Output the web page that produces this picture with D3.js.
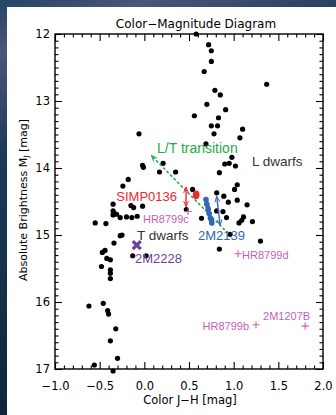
<!DOCTYPE html>
<html>
<head>
<meta charset="utf-8">
<script src="https://cdn.jsdelivr.net/npm/d3@7"></script>
<style>
  html, body { margin: 0; padding: 0; background: #16304a; }
  svg { display: block; }
</style>
</head>
<body>
<div id="cmd"></div>
<script>
// field brown dwarfs: [J-H, M_J]
var fieldDwarfs = [
  [0.58, 12.0], [0.72, 12.16], [0.75, 12.25], [0.75, 12.41], [0.67, 12.56], [1.37, 12.75],
  [0.79, 12.84], [0.85, 12.91], [0.70, 13.05], [0.91, 13.13], [0.56, 13.22], [0.83, 13.25],
  [0.75, 13.37], [0.82, 13.37], [1.10, 13.42], [-0.06, 13.49], [0.78, 13.49], [1.07, 13.55],
  [0.69, 13.64], [0.98, 13.84], [0.95, 13.93], [0.90, 13.94], [0.21, 13.93], [-0.02, 13.96],
  [-0.01, 13.99], [1.02, 13.97], [0.35, 14.06], [0.17, 14.06], [0.84, 14.07], [-0.18, 14.17],
  [-0.24, 14.27], [1.04, 14.25], [1.01, 14.32], [0.54, 14.32], [0.81, 14.37], [0.89, 14.42],
  [0.94, 14.51], [1.04, 14.48], [1.15, 14.55], [0.47, 14.62], [0.81, 14.64], [0.88, 14.65],
  [0.92, 14.74], [0.64, 14.75], [0.75, 14.77], [1.11, 14.73], [1.09, 14.78], [1.06, 14.82],
  [1.21, 14.80], [1.30, 15.09], [0.96, 14.99], [0.84, 15.21],
  [-0.15, 14.56], [-0.12, 14.59], [-0.02, 14.57], [-0.35, 14.54], [-0.35, 14.64], [-0.34, 14.67],
  [-0.31, 14.69], [-0.35, 14.70], [-0.27, 14.74], [-0.20, 14.73], [-0.14, 14.74], [-0.08, 14.72],
  [-0.55, 14.82], [-0.43, 14.83], [-0.27, 15.01], [-0.25, 15.0], [-0.34, 15.12], [-0.44, 15.23],
  [-0.47, 15.26], [-0.42, 15.35], [-0.38, 15.37], [-0.48, 15.47], [-0.38, 15.52], [-0.38, 15.57],
  [-0.38, 15.65], [-0.13, 15.31], [0.02, 15.31], [-0.62, 16.06], [-0.46, 16.02], [-0.41, 16.13],
  [-0.40, 16.18], [-0.32, 16.40], [-0.38, 16.58], [-0.30, 16.84], [-0.56, 16.94], [-0.35, 17.03]
];

// directly imaged planets (plus markers)
var planets = [
  { name: "HR8799c", jh: 0.49, mj: 14.65 },
  { name: "HR8799d", jh: 1.05, mj: 15.28 },
  { name: "HR8799b", jh: 1.25, mj: 16.34 },
  { name: "2M1207B", jh: 1.80, mj: 16.36 }
];

var simp0136 = { jh: 0.58, mj: 14.40, range: [14.29, 14.57], jhArrow: 0.467 };
var track2M2139 = [[0.69, 14.47], [0.70, 14.54], [0.715, 14.61], [0.725, 14.68], [0.74, 14.75], [0.755, 14.82]];
var arrow2M2139 = [[0.81, 14.43], [0.848, 14.85]];
var star2M2228 = { jh: -0.085, mj: 15.15 };
var transitionArrow = [[0.94, 14.98], [0.083, 13.82]];

var xMajor = [-1.0, -0.5, 0.0, 0.5, 1.0, 1.5, 2.0];
var yMajor = [12, 13, 14, 15, 16, 17];

var W = 336, H = 415;
var svg = d3.select("#cmd").append("svg").attr("width", W).attr("height", H);

var defs = svg.append("defs");
var bg = defs.append("linearGradient").attr("id", "bg")
  .attr("x1", 0).attr("y1", 0).attr("x2", 0.3).attr("y2", 1);
bg.append("stop").attr("offset", 0).attr("stop-color", "#234566");
bg.append("stop").attr("offset", 0.12).attr("stop-color", "#4b5578");
bg.append("stop").attr("offset", 0.35).attr("stop-color", "#1c3a58");
bg.append("stop").attr("offset", 1).attr("stop-color", "#0b2434");
svg.append("rect").attr("width", W).attr("height", H).attr("fill", "url(#bg)");
svg.append("rect").attr("x", 7).attr("y", 7).attr("width", W - 7).attr("height", H - 7).attr("fill", "#fff");

var x = d3.scaleLinear().domain([-1, 2]).range([55, 323]);
var y = d3.scaleLinear().domain([12, 17]).range([34, 369]);

var xMinor = d3.range(-10, 21).map(function (d) { return d / 10; }).filter(function (d) { return Math.round(d * 10) % 5 !== 0; });
var yMinor = d3.range(120, 171).map(function (d) { return d / 10; }).filter(function (d) { return Math.round(d * 10) % 10 !== 0; });

var axisFont = "'DejaVu Sans', sans-serif";

function styleAxis(g) {
  g.selectAll(".domain").remove();
  g.selectAll(".tick line").attr("stroke", "#000").attr("stroke-width", 1.1);
  g.selectAll(".tick text").attr("fill", "#000").style("font-family", axisFont).style("font-size", "11.5px");
}

svg.append("g").attr("transform", "translate(0," + y(17) + ")")
  .call(d3.axisBottom(x).tickValues(xMajor).tickSize(-7).tickPadding(13).tickFormat(d3.format(".1f")))
  .call(styleAxis);
svg.append("g").attr("transform", "translate(0," + y(17) + ")")
  .call(d3.axisBottom(x).tickValues(xMinor).tickSize(-3.5).tickFormat(""))
  .call(styleAxis);
svg.append("g").attr("transform", "translate(0," + y(12) + ")")
  .call(d3.axisTop(x).tickValues(xMajor).tickSize(-7).tickFormat(""))
  .call(styleAxis);
svg.append("g").attr("transform", "translate(0," + y(12) + ")")
  .call(d3.axisTop(x).tickValues(xMinor).tickSize(-3.5).tickFormat(""))
  .call(styleAxis);
svg.append("g").attr("transform", "translate(" + x(-1) + ",0)")
  .call(d3.axisLeft(y).tickValues(yMajor).tickSize(-7).tickPadding(5).tickFormat(d3.format("d")))
  .call(styleAxis);
svg.append("g").attr("transform", "translate(" + x(-1) + ",0)")
  .call(d3.axisLeft(y).tickValues(yMinor).tickSize(-3.5).tickFormat(""))
  .call(styleAxis);
svg.append("g").attr("transform", "translate(" + x(2) + ",0)")
  .call(d3.axisRight(y).tickValues(yMajor).tickSize(-7).tickFormat(""))
  .call(styleAxis);
svg.append("g").attr("transform", "translate(" + x(2) + ",0)")
  .call(d3.axisRight(y).tickValues(yMinor).tickSize(-3.5).tickFormat(""))
  .call(styleAxis);

// frame
svg.append("rect")
  .attr("x", x(-1)).attr("y", y(12))
  .attr("width", x(2) - x(-1)).attr("height", y(17) - y(12))
  .attr("fill", "none").attr("stroke", "#000").attr("stroke-width", 1.4);

// titles
svg.append("text").attr("x", 196).attr("y", 28).attr("text-anchor", "middle")
  .style("font-family", axisFont).style("font-size", "12px").text("Color\u2212Magnitude Diagram");
svg.append("text").attr("x", 190).attr("y", 404).attr("text-anchor", "middle")
  .style("font-family", axisFont).style("font-size", "11.5px").text("Color J\u2212H [mag]");
var yl = svg.append("text").attr("transform", "translate(27," + 200 + ")rotate(-90)")
  .attr("text-anchor", "middle").style("font-family", axisFont).style("font-size", "11px");
yl.append("tspan").text("Absolute Brightness M");
yl.append("tspan").attr("baseline-shift", "-25%").style("font-size", "7.5px").text("J");
yl.append("tspan").text(" [mag]");

var plot = svg.append("g");

// field dwarfs
plot.selectAll("circle.field").data(fieldDwarfs).enter().append("circle")
  .attr("class", "field")
  .attr("cx", function (d) { return x(d[0]); })
  .attr("cy", function (d) { return y(d[1]); })
  .attr("r", 2.6).attr("fill", "#000");

// L/T transition arrow
var green = "#1faa4a";
defs.append("marker").attr("id", "gHead").attr("viewBox", "0 0 10 10")
  .attr("refX", 9).attr("refY", 5).attr("markerWidth", 6).attr("markerHeight", 6)
  .attr("orient", "auto").attr("markerUnits", "userSpaceOnUse")
  .append("path").attr("d", "M0,1 L10,5 L0,9").attr("fill", "none").attr("stroke", green).attr("stroke-width", 1.6);
plot.append("line")
  .attr("x1", x(transitionArrow[0][0])).attr("y1", y(transitionArrow[0][1]))
  .attr("x2", x(transitionArrow[1][0])).attr("y2", y(transitionArrow[1][1]))
  .attr("stroke", green).attr("stroke-width", 1.5).attr("stroke-dasharray", "3,2")
  .attr("marker-end", "url(#gHead)");

function doubleArrow(id, color, p0, p1) {
  defs.append("marker").attr("id", id).attr("viewBox", "0 0 10 10")
    .attr("refX", 9).attr("refY", 5).attr("markerWidth", 6).attr("markerHeight", 7)
    .attr("orient", "auto-start-reverse").attr("markerUnits", "userSpaceOnUse")
    .append("path").attr("d", "M0,1 L10,5 L0,9").attr("fill", "none").attr("stroke", color).attr("stroke-width", 1.6);
  plot.append("line")
    .attr("x1", x(p0[0])).attr("y1", y(p0[1])).attr("x2", x(p1[0])).attr("y2", y(p1[1]))
    .attr("stroke", color).attr("stroke-width", 1.4)
    .attr("marker-start", "url(#" + id + ")").attr("marker-end", "url(#" + id + ")");
}

// SIMP0136
var red = "#ec2a30";
doubleArrow("rHead", red, [simp0136.jhArrow, simp0136.range[0]], [simp0136.jhArrow, simp0136.range[1]]);
plot.append("ellipse").attr("cx", x(simp0136.jh)).attr("cy", y(simp0136.mj))
  .attr("rx", 3.4).attr("ry", 4.4).attr("fill", red);

// 2M2139
var blue = "#3566b8";
doubleArrow("bHead", blue, arrow2M2139[0], arrow2M2139[1]);
plot.append("path").datum(track2M2139)
  .attr("d", d3.line().x(function (d) { return x(d[0]); }).y(function (d) { return y(d[1]); }))
  .attr("fill", "none").attr("stroke", blue).attr("stroke-width", 4).attr("stroke-linecap", "round");
plot.selectAll("circle.t2139").data(track2M2139).enter().append("circle")
  .attr("class", "t2139")
  .attr("cx", function (d) { return x(d[0]); }).attr("cy", function (d) { return y(d[1]); })
  .attr("r", 2.8).attr("fill", blue);

// 2M2228
var purple = "#6c3fa3";
var sx = x(star2M2228.jh), sy = y(star2M2228.mj);
plot.append("path")
  .attr("d", "M" + (sx - 4) + "," + (sy - 4) + "L" + (sx + 4) + "," + (sy + 4) + "M" + (sx + 4) + "," + (sy - 4) + "L" + (sx - 4) + "," + (sy + 4))
  .attr("stroke", purple).attr("stroke-width", 3.2);

// planets
var pink = "#c65fb6";
plot.selectAll("path.planet").data(planets).enter().append("path")
  .attr("class", "planet")
  .attr("d", function (d) {
    var px = x(d.jh), py = y(d.mj);
    return "M" + (px - 3.5) + "," + py + "H" + (px + 3.5) + "M" + px + "," + (py - 3.5) + "V" + (py + 3.5);
  })
  .attr("stroke", pink).attr("stroke-width", 1.1);

var labFont = "'Liberation Sans', Arial, sans-serif";
function label(text, jh, mj, color, size, anchor) {
  plot.append("text").attr("x", x(jh)).attr("y", y(mj))
    .attr("text-anchor", anchor || "start")
    .attr("fill", color).style("font-family", labFont).style("font-size", size + "px")
    .text(text);
}
label("L/T transition", 0.142, 13.78, green, 14);
label("L dwarfs", 1.206, 13.97, "#333", 13.5);
label("SIMP0136", 0.366, 14.49, red, 13, "end");
label("T dwarfs", -0.082, 15.07, "#333", 13.5);
label("2M2139", 0.601, 15.07, blue, 13);
label("2M2228", -0.104, 15.42, purple, 13);
label("HR8799c", -0.015, 14.82, pink, 11);
label("HR8799d", 1.094, 15.36, pink, 11);
label("HR8799b", 1.172, 16.42, pink, 11, "end");
label("2M1207B", 1.329, 16.27, pink, 11);
</script>
</body>
</html>
